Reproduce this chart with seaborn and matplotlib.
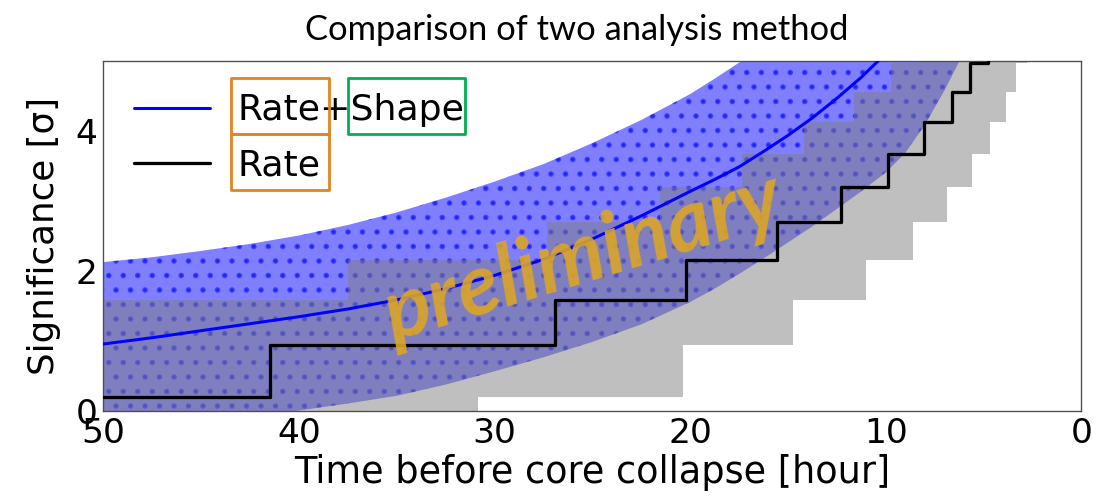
import numpy as np
import matplotlib
matplotlib.use("Agg")
import matplotlib.pyplot as plt
import seaborn as sns
from matplotlib.patches import Rectangle

# ---- data -------------------------------------------------------------
# Rate+Shape expected significance vs. time before core collapse [hour]
shape_t = [50, 47.5, 45, 42.5, 40, 37.5, 35, 32.5, 30, 27.5, 25, 22.5, 20,
           18.75, 17.5, 16.25, 15, 13.75, 12.5, 11.25, 10, 9]
shape_sig = [0.95, 1.04, 1.14, 1.24, 1.34, 1.45, 1.58, 1.74, 1.93, 2.16, 2.45, 2.78, 3.13,
             3.30, 3.48, 3.70, 3.93, 4.18, 4.46, 4.76, 5.1, 5.4]

# Rate+Shape 1-sigma band
band_t = [50, 47.5, 45, 42.5, 40, 37.5, 35, 32.5, 30, 27.5, 25, 22.5, 20,
          18.75, 17.5, 16.25, 15, 13.75, 12.5, 11.25, 10, 9, 8, 7, 6]
band_upper = [2.12, 2.19, 2.28, 2.38, 2.50, 2.65, 2.83, 3.04, 3.27, 3.52, 3.82, 4.15, 4.52,
              4.74, 4.97, 5.22, 5.5, 5.8, 6.1, 6.45, 6.8, 7.1, 7.5, 7.9, 8.3]
band_lower = [-0.30, -0.22, -0.15, -0.08, 0.0, 0.10, 0.21, 0.37, 0.56, 0.76, 0.98, 1.23, 1.55,
              1.74, 1.95, 2.17, 2.40, 2.63, 2.88, 3.13, 3.40, 3.68, 4.08, 4.57, 5.12]

# Rate-only significance: level reached at each onset time
rate_t = [50, 41.5, 26.9, 20.2, 15.58, 12.27, 9.87, 8.06, 6.63, 5.69, 4.79]
rate_levels = [0.19, 0.935, 1.575, 2.15, 2.69, 3.20, 3.66, 4.12, 4.55, 4.97, 5.37]

# Rate-only band: early (upper) and late (lower) onset of each level
rate_hi_t = [50, 37.5, 27.3, 21.54, 17.35, 14.2, 11.6, 9.74, 8.3]
rate_hi = [1.575, 2.15, 2.69, 3.20, 3.66, 4.12, 4.55, 4.97, 5.37]
rate_lo_t = [50, 30.85, 20.38, 14.73, 11.0, 8.6, 6.89, 5.6, 4.67, 3.87, 3.36, 2.8]
rate_lo = [0.0, 0.19, 0.935, 1.575, 2.15, 2.69, 3.20, 3.66, 4.12, 4.55, 4.97, 5.37]

x_ticks = [50, 40, 30, 20, 10, 0]
y_ticks = [0, 2, 4]

title = "Comparison of two analysis method"
x_label = "Time before core collapse [hour]"
y_label = "Significance [σ]"
label_shape = "Rate+Shape"
label_rate = "Rate"
watermark = "preliminary"


def step_at(t, onset, values):
    """Value of a step function whose level changes at the (descending) onset times."""
    onset = np.asarray(onset, float)
    values = np.asarray(values, float)
    n_ge = len(onset) - np.searchsorted(onset[::-1], t, side="left")
    return values[np.clip(n_ge - 1, 0, len(values) - 1)]


# ---- figure -----------------------------------------------------------
DPI = 87
sns.set_theme(style="white")
plt.rcParams.update({
    "font.family": ["DejaVu Sans"],
    "text.color": "black",
    "axes.labelcolor": "black",
    "xtick.color": "black",
    "ytick.color": "black",
    "hatch.linewidth": 2.2,
})

fig = plt.figure(figsize=(1115 / DPI, 498 / DPI), dpi=DPI)
ax = fig.add_axes([0.0927, 0.1757, 0.8771, 0.7028])

# Rate+Shape band with dotted hatch
ax.fill_between(band_t, band_lower, band_upper, color="blue", alpha=0.5,
                hatch=".", linewidth=0, zorder=1)

# Rate-only band (stepped)
grid = np.unique(np.r_[rate_hi_t, rate_lo_t, 0.0])[::-1]
ax.fill_between(grid, step_at(grid, rate_lo_t, rate_lo),
                step_at(grid, rate_hi_t, rate_hi),
                step="post", color="gray", alpha=0.5, linewidth=0, zorder=2)

sns.lineplot(x=shape_t, y=shape_sig, ax=ax, color="blue", linewidth=2.5,
             label=label_shape, zorder=3)
sns.lineplot(x=rate_t, y=rate_levels, ax=ax, color="black", linewidth=2.7,
             drawstyle="steps-post", sort=False, estimator=None,
             label=label_rate, zorder=3)

ax.set_xlim(50, 0)
ax.set_ylim(0, 5)
ax.set_xticks(x_ticks)
ax.set_yticks(y_ticks)
ax.tick_params(direction="in", length=4.4, width=0.9, color="#333333",
               labelsize=28.5, pad=5, labelcolor="black")
for s in ax.spines.values():
    s.set_color("#4d4d4d")
    s.set_linewidth(1.1)

ax.set_xlabel(x_label, fontsize=30.3, labelpad=4, color="black")
ax.set_ylabel(y_label, fontsize=29.5, labelpad=12, color="black")

fig.text(0.5175, 0.9197, title, family="Lato", fontsize=28.5,
         ha="center", va="baseline", color="black")

ax.text(0.49, 0.435, watermark, transform=ax.transAxes, family="Lato",
        fontweight="bold", fontstyle="italic", fontsize=71, color="#DCA526",
        alpha=0.9, rotation=17, rotation_mode="anchor",
        ha="center", va="center", zorder=6)

handles, labels = ax.get_legend_handles_labels()
leg = ax.legend(handles, labels, loc="upper left", bbox_to_anchor=(0.0316, 0.906),
                frameon=False, fontsize=30, handlelength=2.1, handletextpad=0.75,
                labelspacing=0.59, borderpad=0, borderaxespad=0, labelcolor="black")

# Highlight boxes around the words of the legend labels
fig.canvas.draw()
renderer = fig.canvas.get_renderer()
texts = leg.get_texts()
to_fig = fig.transFigure.inverted()


def add_box(x0, x1, yc, h, color):
    (fx0, fy0), (fx1, fy1) = to_fig.transform([(x0, yc - h / 2), (x1, yc + h / 2)])
    fig.add_artist(Rectangle((fx0, fy0), fx1 - fx0, fy1 - fy0, transform=fig.transFigure,
                             fill=False, edgecolor=color, linewidth=2.3,
                             joinstyle="round", zorder=10))


orange, green = "#E6841C", "#00B050"
for txt in texts:
    bb = txt.get_window_extent(renderer)
    fp = txt.get_fontproperties()
    w_rate = renderer.get_text_width_height_descent("Rate", fp, ismath=False)[0]
    yc = (bb.y0 + bb.y1) / 2 + 4
    add_box(bb.x0 - 7, bb.x0 + w_rate + 8, yc, 56, orange)
    if txt.get_text() == label_shape:
        w_plus = renderer.get_text_width_height_descent("Rate+", fp, ismath=False)[0]
        add_box(bb.x0 + w_plus - 3, bb.x1 + 1, yc, 56, green)

fig.savefig("out.png", dpi=DPI)
